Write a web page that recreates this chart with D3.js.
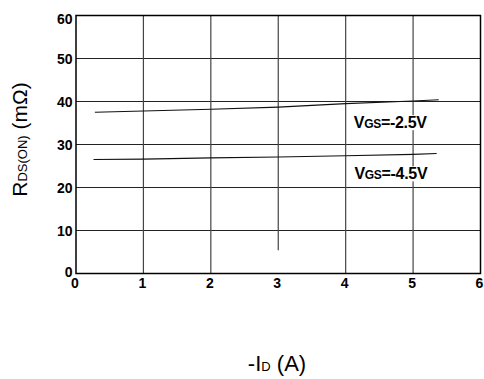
<!DOCTYPE html>
<html>
<head>
<meta charset="utf-8">
<script src="https://cdn.jsdelivr.net/npm/d3@7"></script>
<style>
  html, body { margin: 0; padding: 0; background: #fff; }
  svg { display: block; }
  text { font-family: "Liberation Sans", Arial, sans-serif; }
</style>
</head>
<body>
<svg id="chart" width="484" height="379"></svg>
<script>
// On-resistance vs drain current, two gate-drive levels
const xTicks = [0, 1, 2, 3, 4, 5, 6];
const yTicks = [0, 10, 20, 30, 40, 50, 60];

const idVgs25 = [0.28, 1, 2, 3, 4, 5, 5.38];
const rdsVgs25 = [37.5, 37.8, 38.2, 38.7, 39.5, 40.1, 40.4];

const idVgs45 = [0.26, 1, 2, 3, 4, 5, 5.35];
const rdsVgs45 = [26.5, 26.6, 26.9, 27.1, 27.4, 27.7, 27.9];

const seriesNames = ["-2.5V", "-4.5V"];

const svg = d3.select("#chart");
const plotLeft = 76, plotRight = 480.5, plotTop = 15.5, plotBottom = 273.5;

const x = d3.scaleLinear().domain([0, 6]).range([plotLeft, plotRight]);
const y = d3.scaleLinear().domain([0, 60]).range([plotBottom, plotTop]);

// grid
const grid = svg.append("g").attr("stroke", "#222").attr("stroke-width", 1.2);
grid.selectAll("line.h").data(yTicks.filter(v => v > 0 && v < 60)).join("line")
  .attr("class", "h")
  .attr("x1", x(0)).attr("x2", x(6))
  .attr("y1", d => y(d)).attr("y2", d => y(d));
grid.selectAll("line.v").data(xTicks.filter(v => v > 0 && v < 6)).join("line")
  .attr("class", "v")
  .attr("stroke", "#444")
  .attr("y1", y(60))
  .attr("y2", d => d === 3 ? y(5.4) : y(0))
  .attr("x1", d => x(d)).attr("x2", d => x(d));

// frame
svg.append("rect")
  .attr("x", x(0)).attr("y", y(60))
  .attr("width", x(6) - x(0)).attr("height", y(0) - y(60))
  .attr("fill", "none").attr("stroke", "#000").attr("stroke-width", 1.5);

// curves
const line = d3.line().x(d => x(d[0])).y(d => y(d[1]));
const curves = [
  d3.zip(idVgs25, rdsVgs25),
  d3.zip(idVgs45, rdsVgs45)
];
svg.selectAll("path.curve").data(curves).join("path")
  .attr("class", "curve")
  .attr("d", line)
  .attr("fill", "none").attr("stroke", "#111").attr("stroke-width", 1.1);

// axes
const xAxis = d3.axisBottom(x).tickValues(xTicks).tickSize(0).tickPadding(0).tickFormat(d3.format("d"));
const gx = svg.append("g").attr("transform", `translate(0,${plotBottom})`).call(xAxis);
gx.select(".domain").remove();
gx.selectAll("text")
  .attr("dy", 0).attr("y", 14.5).attr("dx", -1.5)
  .attr("font-family", "Liberation Sans, Arial, sans-serif")
  .attr("font-size", 14).attr("font-weight", "bold").attr("fill", "#000");

const yAxis = d3.axisLeft(y).tickValues(yTicks).tickSize(0).tickPadding(3.5).tickFormat(d3.format("d"));
const gy = svg.append("g").attr("transform", `translate(${plotLeft},0)`).call(yAxis);
gy.select(".domain").remove();
gy.selectAll("text")
  .attr("dy", d => d === 60 ? "0.58em" : d === 0 ? "0.22em" : "0.36em")
  .attr("font-family", "Liberation Sans, Arial, sans-serif")
  .attr("font-size", 14).attr("font-weight", "bold").attr("fill", "#000");

// curve labels
const labelPos = [[4.12, 33.8], [4.13, 21.9]];
seriesNames.forEach((name, i) => {
  const g = svg.append("g");
  const t = g.append("text")
    .attr("x", x(labelPos[i][0])).attr("y", y(labelPos[i][1]))
    .attr("font-size", 16).attr("font-weight", "bold").attr("fill", "#000")
    .attr("letter-spacing", -0.3);
  t.append("tspan").text("V");
  t.append("tspan").attr("font-size", 12).text("GS");
  t.append("tspan").text("=" + name);
  const bb = t.node().getBBox();
  g.insert("rect", "text")
    .attr("x", bb.x - 1).attr("y", bb.y + 1)
    .attr("width", bb.width + 2).attr("height", bb.height - 2)
    .attr("fill", "#fff");
});

// axis titles
const yt = svg.append("text")
  .attr("transform", `translate(26.5,139.5) rotate(-90)`)
  .attr("text-anchor", "middle")
  .attr("font-size", 21).attr("fill", "#000");
yt.append("tspan").text("R");
yt.append("tspan").attr("font-size", 13).text("DS(ON)");
yt.append("tspan").text(" (mΩ)");

const xt = svg.append("text")
  .attr("x", 277).attr("y", 371)
  .attr("text-anchor", "middle")
  .attr("font-size", 22).attr("fill", "#000");
xt.append("tspan").text("-I");
xt.append("tspan").attr("font-size", 13).text("D");
xt.append("tspan").text(" (A)");
</script>
</body>
</html>
